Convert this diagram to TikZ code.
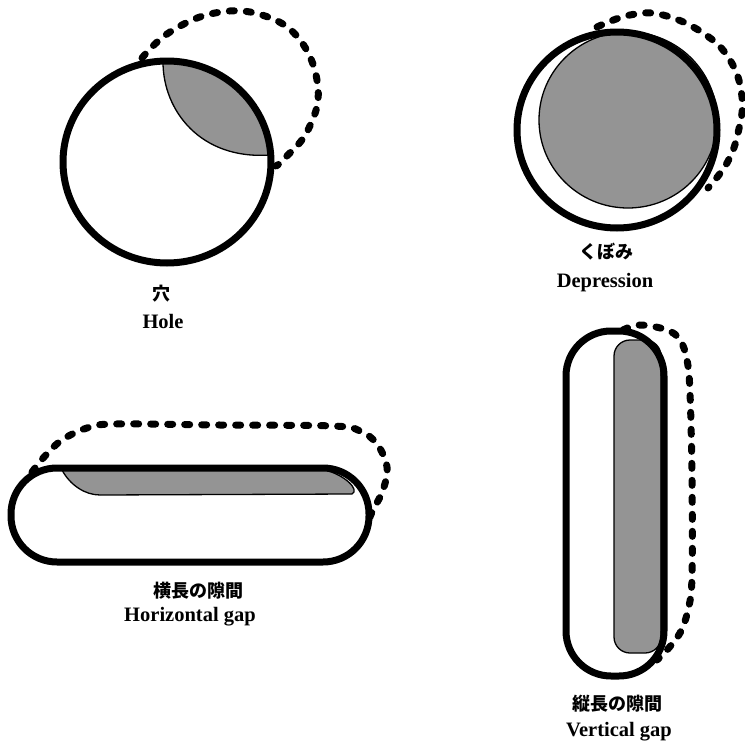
\documentclass[tikz,border=0pt]{standalone}
\usepackage{fontspec}
\setmainfont{Liberation Serif}
\newfontfamily\cjk{Noto Sans CJK JP}
\begin{document}
\begin{tikzpicture}[x=1pt,y=-1pt,
  outline/.style={line width=7pt, line join=round},
  dashline/.style={line width=7pt, line cap=round, dash pattern=on 5pt off 12pt},
  shadefill/.style={fill=black!42},
  shadeedge/.style={line width=1.3pt},
  jlabel/.style={font=\cjk\bfseries\fontsize{18}{20}\selectfont, inner sep=0pt},
  elabel/.style={font=\bfseries\fontsize{20.5}{23}\selectfont, inner sep=0pt, anchor=base}]
\useasboundingbox (0,0) rectangle (745,744);

% ---------- Hole ----------
\coordinate (hc) at (167,162);
\begin{scope}
  \clip (hc) circle[x radius=104, y radius=101];
  \fill[shadefill] (163,55) -- (163,65) .. controls (163,110) and (200,160) .. (268,155) -- (290,150) -- (290,40) -- cycle;
\end{scope}
\draw[shadeedge] (163,62) .. controls (163,110) and (200,160) .. (270,155);
\draw[outline] (hc) circle[x radius=104, y radius=101];
\draw[dashline] plot[smooth, tension=0.7] coordinates {(142,58) (170,32) (215,13) (262,15) (300,40) (318,88) (308,130) (285,158) (276,166)};

% ---------- Depression ----------
\coordinate (dc) at (617,130);
\coordinate (ds) at (628,120);
\filldraw[shadefill, shadeedge] (ds) circle[x radius=89, y radius=88];
\draw[outline] (dc) circle[x radius=100, y radius=98];
\draw[dashline] plot[smooth, tension=0.7] coordinates {(597,27) (630,15) (663,15) (703,33) (730,60) (742,97) (738,133) (727,163) (708,188)};

% ---------- Horizontal gap ----------
\filldraw[shadefill, shadeedge] (62,470) -- (325,470) .. controls (345,475) and (360,490) .. (352,494) -- (100,495) .. controls (85,495) and (70,485) .. cycle;
\draw[outline, rounded corners=46] (11,468) rectangle (369,562);
\draw[dashline] plot[smooth, tension=0.6] coordinates {(32,472) (45,456) (62,440) (87,428) (115,424) (220,425) (333,426) (360,431) (377,444) (387,467) (383,490) (373,510) (370,517)};

% ---------- Vertical gap ----------
\filldraw[shadefill, shadeedge, rounded corners=16] (614,340) rectangle (661,653);
\draw[outline, rounded corners=45] (566,331) rectangle (664,676);
\draw[dashline] plot[smooth, tension=0.6] coordinates {(623,330) (640,325) (667,330) (680,340) (687,360) (690,393) (692,477) (692,577) (688,610) (680,633) (667,650) (657,660)};

% ---------- Labels ----------
\node[jlabel] (holej) at (161,294) {穴};
\node[elabel] (holee) at (163,328) {Hole};
\node[jlabel] (depj) at (606,252) {くぼみ};
\node[elabel] (depe) at (605,287) {Depression};
\node[jlabel] (horj) at (198,591) {横長の隙間};
\node[elabel] (hore) at (190,621) {Horizontal gap};
\node[jlabel] (verj) at (617,704) {縦長の隙間};
\node[elabel] (vere) at (619,736) {Vertical gap};
\end{tikzpicture}
\end{document}
